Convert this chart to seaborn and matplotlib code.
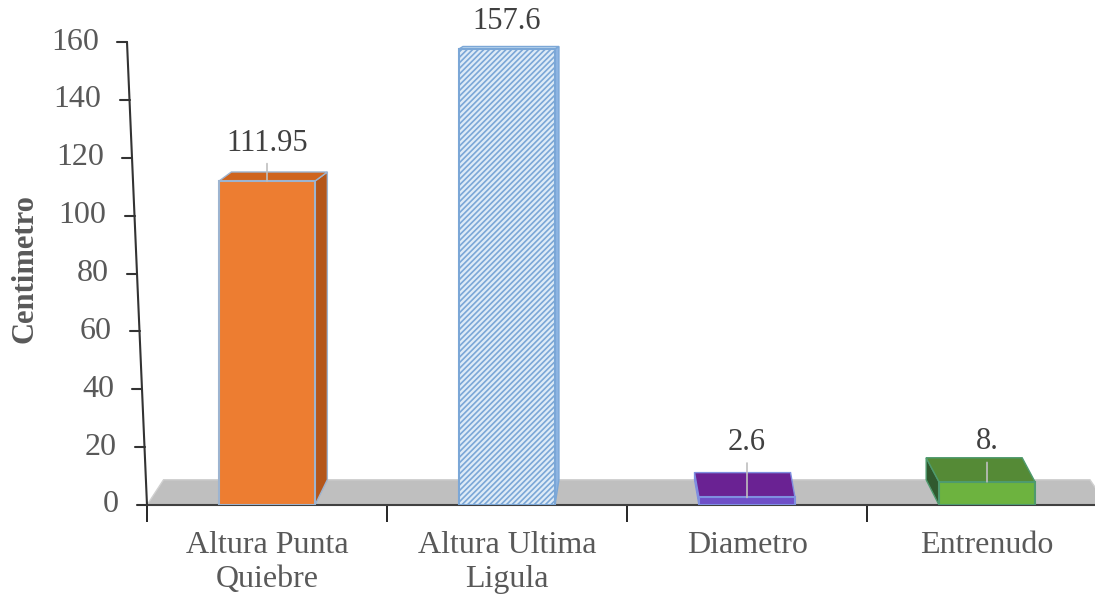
import matplotlib
matplotlib.use("Agg")
import matplotlib.pyplot as plt
from matplotlib.patches import Polygon
from matplotlib.transforms import IdentityTransform, blended_transform_factory, ScaledTranslation
import pandas as pd
import seaborn as sns

# datos del grafico
variables = ["Altura Punta\nQuiebre", "Altura Ultima\nLigula", "Diametro", "Entrenudo"]
valores = [111.95, 157.6, 2.6, 8.0]
etiquetas = ["111.95", "157.6", "2.6", "8."]
y_ticks = [0, 20, 40, 60, 80, 100, 120, 140, 160]

# colores: cara frontal, tapa, lateral, borde
frente = ["#ED7D31", "#DEEBF7", "#6F4FC8", "#6DB33F"]
tapa = ["#CF641E", "#BDD7EE", "#6A2293", "#558A36"]
lateral = ["#B4561A", "#8DB4E2", "#4B1E6E", "#30592E"]
borde = ["#9DB4D0", "#7BA7D7", "#7F8FE0", "#4E9A6E"]

# desplazamiento de las etiquetas (px) y si llevan linea guia
lbl_off = [38, 27, 55, 40]
lbl_guia = [True, False, True, True]

sns.set_style("white")
plt.rcParams["font.family"] = ["Liberation Serif", "DejaVu Serif"]
plt.rcParams["hatch.linewidth"] = 1.2

df = pd.DataFrame({"variable": variables, "valor": valores})

fig = plt.figure(figsize=(10.95, 5.98), dpi=100)
ax = fig.add_axes([147 / 1095, 1 - 505 / 598, 960 / 1095, 463 / 598])
sns.barplot(data=df, x="variable", y="valor", hue="variable", palette=frente,
            width=0.4, saturation=1, legend=False, ax=ax, zorder=3)
ax.set_xlim(-0.5, 3.5)
ax.set_ylim(0, 160)
ax.set_xlabel("")
ax.set_ylabel("")
barras = list(ax.patches)


def profundidad(xd, yd):
    # desplazamiento (px) de la cara trasera, imitando la perspectiva 3D
    return 0.035 * (620 - xd), 0.05 * (598 - yd)


# piso gris
(fl, fy), (fr, _) = ax.transData.transform([(-0.5, 0), (3.5, 0)])
dl = profundidad(fl, fy)
dr = profundidad(fr, fy)
piso = Polygon([(fl, fy), (fr, fy), (fr + dr[0], fy + dr[1]), (fl + dl[0], fy + dl[1])],
               closed=True, transform=IdentityTransform(), facecolor="#BFBFBF",
               edgecolor="#D0D0D0", lw=1, zorder=1, clip_on=False)
ax.add_patch(piso)

# caras 3D de cada barra
for i, p in enumerate(barras):
    p.set_edgecolor(borde[i])
    p.set_linewidth(1.5)
    if i == 1:
        p.set_hatch("//////")
    x0, w, h = p.get_x(), p.get_width(), p.get_height()
    (xl, yb), (xr, yt) = ax.transData.transform([(x0, 0), (x0 + w, h)])
    dx, dy = profundidad((xl + xr) / 2, yt)
    dxb, dyb = profundidad((xl + xr) / 2, yb)
    xs = xr if dx > 0 else xl
    lado = Polygon([(xs, yb), (xs, yt), (xs + dx, yt + dy), (xs + dxb, yb + dyb)],
                   closed=True, transform=IdentityTransform(), facecolor=lateral[i],
                   edgecolor=borde[i], lw=1, zorder=2.5, clip_on=False)
    top = Polygon([(xl, yt), (xr, yt), (xr + dx, yt + dy), (xl + dx, yt + dy)],
                  closed=True, transform=IdentityTransform(), facecolor=tapa[i],
                  edgecolor=borde[i], lw=1, zorder=2.6, clip_on=False)
    ax.add_patch(lado)
    ax.add_patch(top)

# etiquetas de datos
for i, (v, t) in enumerate(zip(valores, etiquetas)):
    ap = dict(arrowstyle="-", color="#BFBFBF", lw=1.2, shrinkA=2, shrinkB=0) if lbl_guia[i] else None
    ax.annotate(t, xy=(i, v), xytext=(0, lbl_off[i]), textcoords="offset pixels",
                ha="center", va="center", fontsize=22, color="#404040",
                arrowprops=ap, zorder=5, annotation_clip=False)

# eje x
ax.set_xticks(range(len(variables)))
ax.set_xticklabels(variables, fontsize=23, color="#595959", linespacing=1.22)
ax.set_xticks([-0.5, 0.5, 1.5, 2.5], minor=True)
ax.tick_params(axis="x", which="major", bottom=False, length=0, pad=19)
ax.tick_params(axis="x", which="minor", bottom=True, length=12, width=1.2,
               color="black", direction="out")
ax.spines["bottom"].set_color("#404040")
ax.spines["bottom"].set_linewidth(1.5)
for s in ["left", "top", "right"]:
    ax.spines[s].set_visible(False)

# eje y inclinado (como en el original)
ax.set_yticks(y_ticks)
ax.tick_params(axis="y", length=0, labelleft=False)
inc = -20
bt = blended_transform_factory(ax.transAxes, ax.transData)
ax.plot([0, inc / 960], [0, 160], color="#333333", lw=1.5, clip_on=False, zorder=4,
        transform=bt)
for v in y_ticks:
    sh = inc * v / 160
    tr = bt + ScaledTranslation(sh / 100, 0, fig.dpi_scale_trans)
    ax.plot([-10 / 960, 0], [v, v], color="#333333", lw=1.5, clip_on=False, transform=tr)
    ax.text(-28 / 960, v, str(v), ha="right", va="center", fontsize=23,
            color="#595959", transform=tr)

fig.text(25 / 1095, 1 - 269 / 598, "Centimetro", rotation=90, ha="center", va="center",
         fontsize=22, fontweight="bold", color="#595959")

fig.savefig("out.png", dpi=100)
